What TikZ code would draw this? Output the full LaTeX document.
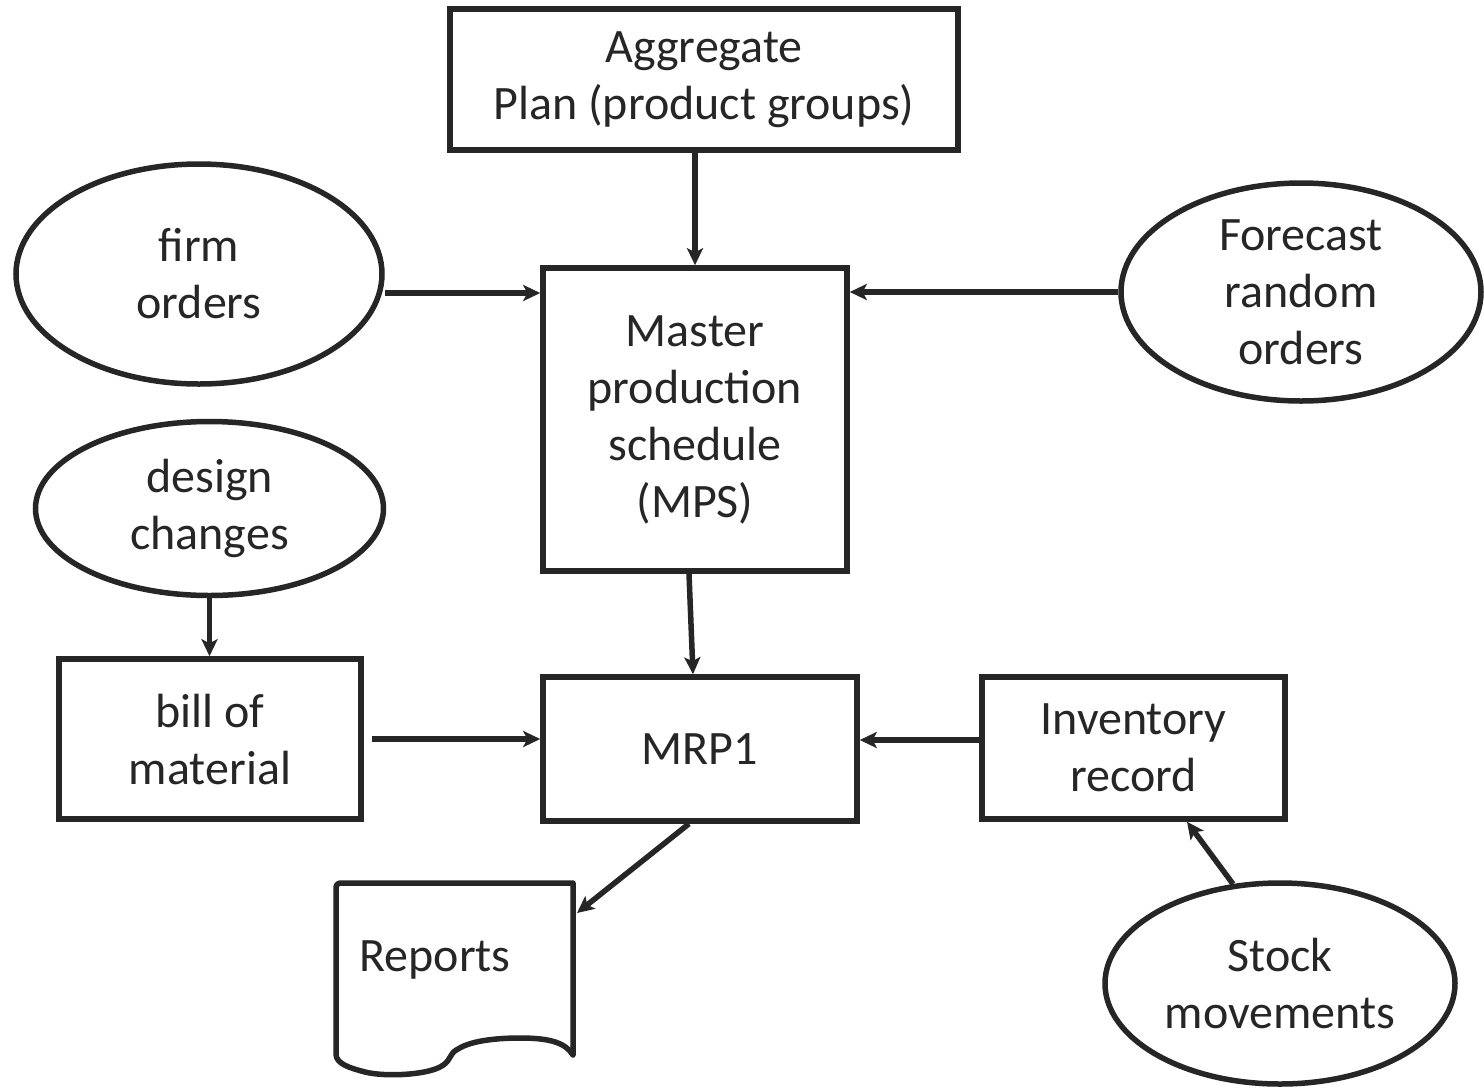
\documentclass[tikz,border=0pt]{standalone}
\usepackage{fontspec}
\setmainfont{Carlito}
\usetikzlibrary{shapes.geometric,arrows.meta}
\definecolor{ink}{HTML}{262626}
\newcommand{\lbl}{\fontsize{48}{57}\selectfont}

\begin{document}
\begin{tikzpicture}[x=1pt,y=-1pt,color=ink,
  box/.style={draw,line width=5.5pt,rectangle,inner sep=0pt,align=center,font=\lbl},
  oval/.style={draw,line width=5.5pt,ellipse,inner sep=0pt,align=center,font=\lbl},
  arr/.style={line width=5.5pt,-{Stealth[length=17pt,width=16pt,inset=4pt]}}]
\useasboundingbox[fill=white] (0,0) rectangle (1484,1088);

% planning inputs
\node[box,minimum width=508pt,minimum height=141pt] (agg) at (704,79.5) {Aggregate\\Plan (product groups)};
\node[box,minimum width=304pt,minimum height=303pt] (mps) at (695,419.5) {Master\\production\\schedule\\(MPS)};
\node[oval,minimum width=366pt,minimum height=220pt] (firm) at (199,274) {firm\\orders};
\node[oval,minimum width=360pt,minimum height=218pt] (fc) at (1301,292) {Forecast\\random\\orders};
\node[oval,minimum width=348pt,minimum height=174pt] (dc) at (209.5,508.5) {design\\changes};

% MRP level
\node[box,minimum width=302pt,minimum height=160pt] (bill) at (210,739) {bill of\\material};
\node[box,minimum width=314pt,minimum height=144pt] (mrp) at (700,749) {MRP1};
\node[box,minimum width=303pt,minimum height=142pt] (inv) at (1133.5,748) {Inventory\\record};
\node[oval,minimum width=350pt,minimum height=201pt] (stock) at (1280,983.5) {Stock\\movements};

% document shape for the reports
\draw[line width=5.5pt,line join=round,line cap=round]
  (573,1055) -- (573,886) to[out=180,in=0] (573,883) -- (340,883)
  to[out=180,in=90] (336,887) -- (336,1054)
  .. controls (336,1064) and (350,1068) .. (365,1072)
  .. controls (385,1077) and (425,1075) .. (440,1067)
  .. controls (452,1061) and (448,1054) .. (458,1049)
  .. controls (472,1040) and (500,1038) .. (520,1038)
  .. controls (548,1038) and (565,1042) .. (573,1055);
\node[font=\lbl,inner sep=0pt] (rep) at (435,960) {Reports};
\coordinate (repin) at (577,913);

% connectors
\draw[arr] (agg.south -| mps.north) -- (mps.north);
\coordinate (f1) at (385,293);
\draw[arr] (f1) -- (f1 -| mps.west);
\draw[arr] (fc.west) -- (mps.east |- fc.west);
\draw[arr] ([xshift=-6pt]mps.south) -- ([xshift=-7pt]mrp.north);
\draw[arr] (dc.south) -- (dc.south |- bill.north);
\draw[arr] ([xshift=8pt]bill.east) -- (mrp.west |- bill.east);
\draw[arr] ([yshift=8pt]inv.west) -- ([yshift=8pt]inv.west -| mrp.east);
\coordinate (s1) at (1233,884);
\draw[arr] (s1) -- ([xshift=53.5pt]inv.south);
\draw[arr] ([xshift=-11pt]mrp.south) -- (repin);
\end{tikzpicture}
\end{document}
